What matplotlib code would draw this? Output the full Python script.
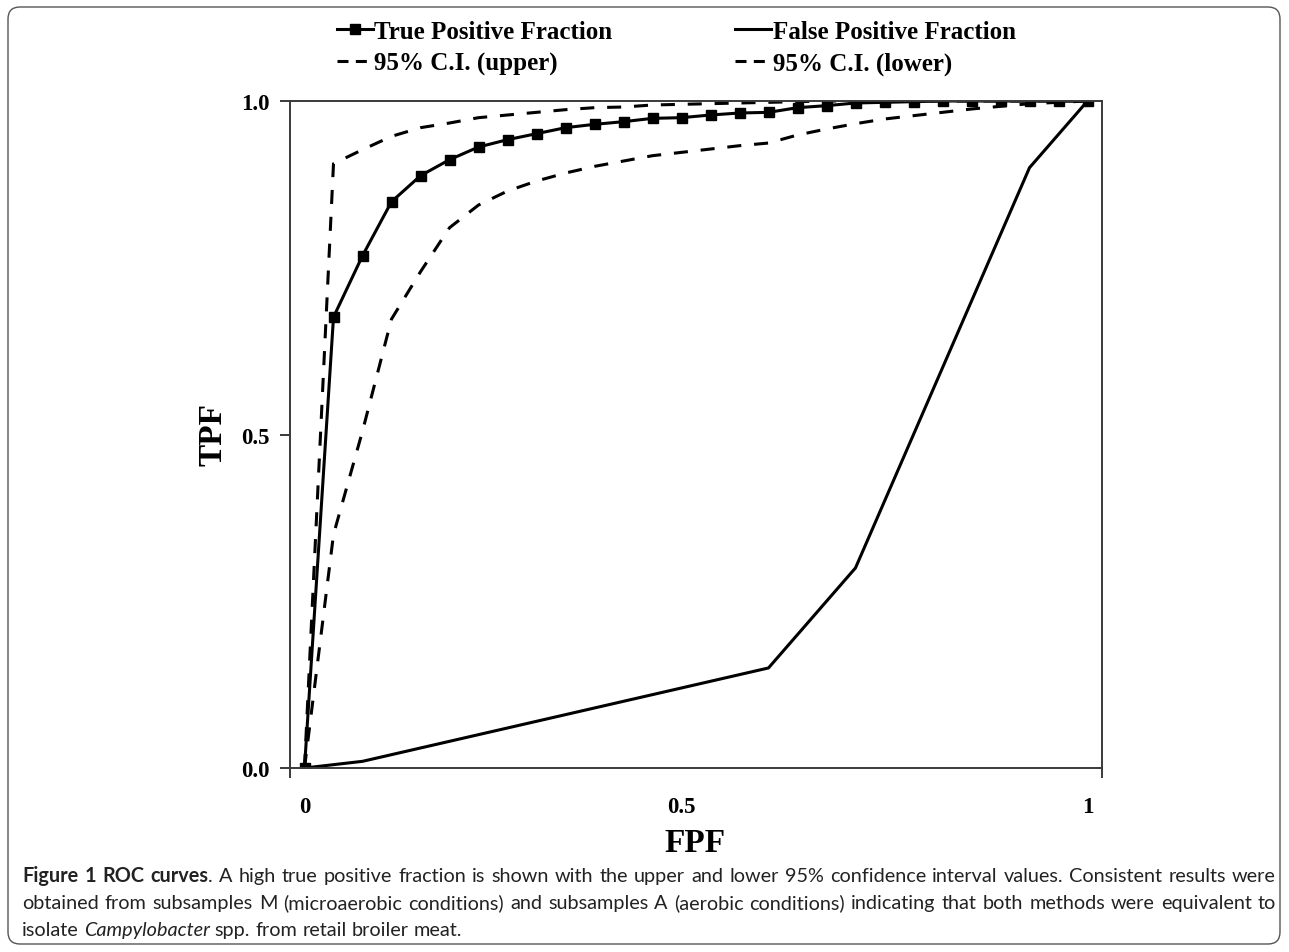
import numpy as np
import matplotlib
matplotlib.use("Agg")
import matplotlib.pyplot as plt
from matplotlib.lines import Line2D
from matplotlib.patches import FancyBboxPatch
import matplotlib.transforms as mtransforms

# ROC data: one value per cut-off category
tpf = [0.0, 0.676, 0.768, 0.849, 0.888, 0.912, 0.931, 0.942, 0.951, 0.960,
       0.965, 0.969, 0.974, 0.975, 0.979, 0.982, 0.983, 0.990, 0.993, 0.997,
       0.998, 0.999, 1.0, 1.0, 1.0, 1.0, 1.0, 1.0]
fpf = [0.0, 0.005, 0.01, 0.02, 0.03, 0.04, 0.05, 0.06, 0.07, 0.08,
       0.09, 0.10, 0.11, 0.12, 0.13, 0.14, 0.15, 0.20, 0.25, 0.30,
       0.40, 0.50, 0.60, 0.70, 0.80, 0.90, 0.95, 1.0]
ci_upper = [0.0, 0.906, 0.927, 0.947, 0.960, 0.967, 0.975, 0.979, 0.983, 0.987,
            0.990, 0.991, 0.994, 0.995, 0.996, 0.997, 0.998, 0.999, 1.0, 1.0,
            1.0, 1.0, 1.0, 1.0, 1.0, 1.0, 1.0, 1.0]
ci_lower = [0.0, 0.350, 0.505, 0.673, 0.744, 0.810, 0.844, 0.865, 0.880, 0.892,
            0.902, 0.910, 0.918, 0.923, 0.928, 0.933, 0.937, 0.949, 0.958, 0.966,
            0.973, 0.978, 0.983, 0.988, 0.992, 0.996, 0.998, 1.0]

x_tick_pos = [0, 13, 27]
x_tick_labels = ["0", "0.5", "1"]
y_ticks = [0.0, 0.5, 1.0]
y_tick_labels = ["0.0", "0.5", "1.0"]

W, H = 1289, 953
fig = plt.figure(figsize=(W / 100, H / 100), dpi=100)
serif = "Liberation Serif"

ax = fig.add_axes([290 / W, 1 - 769 / H, 812 / W, 667 / H])
x = np.arange(len(tpf))

dash = (0, (4.6, 4.2))
lw = 2.2
ax.plot(x, ci_upper, color="black", lw=lw, linestyle=dash)
ax.plot(x, ci_lower, color="black", lw=lw, linestyle=dash)
ax.plot(x, fpf, color="black", lw=lw)
ax.plot(x, tpf, color="black", lw=lw, marker="s", markersize=6.5)

ax.set_xlim(-0.5, len(tpf) - 0.5)
ax.set_ylim(0, 1)

spine_color = "#3a3a3a"
for s in ax.spines.values():
    s.set_color(spine_color)
    s.set_linewidth(1.4)

ax.set_xticks([-0.5, len(tpf) - 0.5])
ax.set_xticklabels(["", ""])
ax.set_xticks(x_tick_pos, minor=True)
ax.set_xticklabels(x_tick_labels, minor=True)
ax.tick_params(axis="x", which="major", direction="out", length=7,
               width=1.4, color=spine_color)
ax.tick_params(axis="x", which="minor", length=0, pad=20)
ax.set_yticks(y_ticks)
ax.set_yticklabels(y_tick_labels)
ax.tick_params(axis="y", direction="out", length=7, width=1.4,
               color=spine_color, pad=8)
for lab in ax.get_xticklabels(minor=True) + ax.get_yticklabels():
    lab.set_fontfamily(serif)
    lab.set_fontweight("bold")
    lab.set_fontsize(16.5)

fig.text(213 / W, 1 - 435 / H, "TPF", rotation=90, ha="center", va="center",
         family=serif, weight="bold", fontsize=24)
fig.text(695 / W, 1 - 844 / H, "FPF", ha="center", va="center",
         family=serif, weight="bold", fontsize=24)

# legend keys: short dashes so each key shows two full dashes
key_dash = (0, (3.6, 2.4))
handles = [
    Line2D([], [], color="black", lw=lw, marker="s", markersize=6.5,
           label="True Positive Fraction"),
    Line2D([], [], color="black", lw=lw, linestyle=key_dash,
           label="95% C.I. (upper)"),
    Line2D([], [], color="black", lw=lw, label="False Positive Fraction"),
    Line2D([], [], color="black", lw=lw, linestyle=key_dash,
           label="95% C.I. (lower)"),
]
fig.legend(handles=handles, ncol=2, loc="upper left",
           bbox_to_anchor=(337 / W, 1 - 21 / H), frameon=False,
           borderpad=0, borderaxespad=0, handlelength=1.45,
           handletextpad=0.05, columnspacing=4.9, labelspacing=0.36,
           prop={"family": serif, "weight": "bold", "size": 18})

# rounded frame around the figure panel
frame = FancyBboxPatch((8, 8), W - 17, H - 16,
                       boxstyle="round,pad=0,rounding_size=12",
                       transform=mtransforms.IdentityTransform(),
                       fill=False, edgecolor="#555555", lw=1.0)
fig.add_artist(frame)

# caption, justified
fig.canvas.draw()
renderer = fig.canvas.get_renderer()
cap_font = "Lato"
cap_size = 14.3
styles = {"b": dict(weight="bold"), "n": dict(), "i": dict(style="italic")}


def seg_width(text, st):
    t = fig.text(0, 0, text, family=cap_font, fontsize=cap_size, **styles[st])
    w = t.get_window_extent(renderer).width
    t.remove()
    return w


def words(text, st):
    return [[(w, st)] for w in text.split()]


line1 = (words("Figure 1 ROC", "b") + [[("curves", "b"), (".", "n")]] +
         words("A high true positive fraction is shown with the upper and lower "
               "95% confidence interval values. Consistent results were", "n"))
line2 = words("obtained from subsamples M (microaerobic conditions) and subsamples A "
              "(aerobic conditions) indicating that both methods were equivalent to",
              "n")
line3 = (words("isolate", "n") + [[("Campylobacter", "i")]] +
         words("spp. from retail broiler meat.", "n"))

x0, x1 = 22, 1276
space_w = seg_width("a a", "n") - seg_width("aa", "n")
for line, base, justify in [(line1, 882, True), (line2, 909, True),
                            (line3, 936, False)]:
    widths = [sum(seg_width(s, st) for s, st in tok) for tok in line]
    if justify:
        gap = (x1 - x0 - sum(widths)) / (len(line) - 1)
    else:
        gap = space_w
    xp = x0
    for tok, w in zip(line, widths):
        xs = xp
        for s, st in tok:
            fig.text(xs / W, 1 - base / H, s, family=cap_font,
                     fontsize=cap_size, va="baseline", color="#222222",
                     **styles[st])
            xs += seg_width(s, st)
        xp += w + gap

fig.savefig("out.png", dpi=100)
